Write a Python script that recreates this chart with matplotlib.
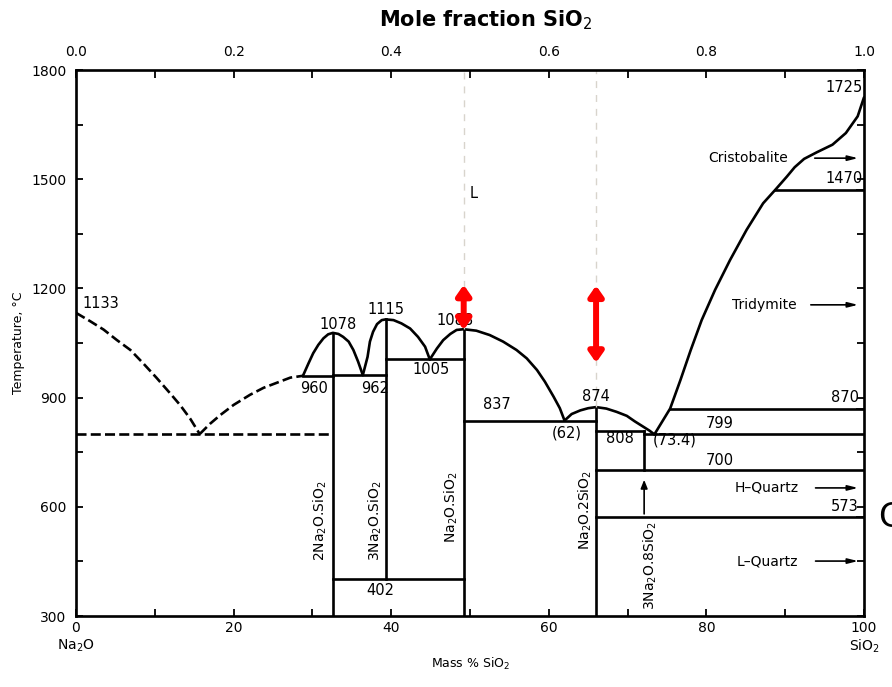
import matplotlib
matplotlib.use("Agg")
from matplotlib import pyplot as plt

plt.rcParams["font.family"] = ["DejaVu Sans"]
plt.rcParams["mathtext.fontset"] = "dejavusans"

# Na2O - SiO2 phase diagram (mass % SiO2 vs temperature)
# liquidus branches
liq_na2o_x = [0, 1.8, 3.5, 5.2, 6.9, 8.5, 10.2, 11.9, 13.2, 14.5, 15.7]
liq_na2o_t = [1133, 1110, 1087, 1058, 1031, 995, 955, 913, 880, 842, 800]
liq_c21_x = [15.7, 17.0, 18.3, 20.0, 22.1, 23.8, 25.5, 27.2, 28.8]
liq_c21_t = [800, 828, 852, 880, 908, 927, 941, 955, 960]

arc1_x = [28.8, 29.5, 30.1, 30.75, 31.4, 32.0, 32.6, 33.3, 33.9, 34.6, 35.2, 35.8, 36.4]
arc1_t = [960, 994, 1022, 1045, 1063, 1074, 1078, 1075, 1067, 1054, 1031, 999, 962]
arc2_x = [36.4, 37.0, 37.3, 37.7, 38.2, 38.8, 39.3, 40.3, 41.3, 42.4, 43.4, 44.3, 44.9]
arc2_t = [962, 1012, 1054, 1081, 1102, 1113, 1115, 1113, 1104, 1090, 1067, 1040, 1005]
arc3_x = [44.9, 45.8, 46.6, 47.5, 48.3, 49.2, 50.8, 52.5, 54.2, 55.9, 57.2, 58.5, 59.5,
          60.6, 61.4, 62.0]
arc3_t = [1005, 1035, 1058, 1075, 1086, 1088, 1084, 1072, 1054, 1031, 1008, 976, 944,
          903, 871, 837]
arc4_x = [62.0, 62.9, 64.0, 65.0, 66.0, 67.3, 68.6, 69.9, 70.9, 72.0, 72.8, 73.4]
arc4_t = [837, 855, 865, 871, 874, 870, 861, 850, 835, 820, 809, 799]
liq_sio2_x = [73.4, 75.4, 76.7, 78.0, 79.4, 81.1, 83.0, 85.1, 87.2, 88.7, 90.2, 91.2,
              92.4, 94.0, 96.0, 97.7, 99.2, 100]
liq_sio2_t = [799, 870, 948, 1030, 1113, 1196, 1278, 1361, 1434, 1470, 1507, 1533,
              1556, 1574, 1595, 1627, 1673, 1725]

# invariant lines: temperature, start, end
iso_t = [960, 962, 1005, 402, 837, 808, 799, 870, 700, 573, 1470]
iso_x0 = [28.8, 32.6, 39.3, 32.6, 49.2, 66.0, 72.1, 75.4, 66.0, 66.0, 88.7]
iso_x1 = [32.6, 39.3, 49.2, 49.2, 66.0, 72.1, 100, 100, 100, 100, 100]

# compounds: composition, bottom, top
comp_x = [32.6, 39.3, 49.2, 66.0, 72.1]
comp_t0 = [300, 402, 300, 300, 700]
comp_t1 = [1078, 1115, 1088, 874, 808]
comp_names = [r"2Na$_2$O.SiO$_2$", r"3Na$_2$O.SiO$_2$", r"Na$_2$O.SiO$_2$",
              r"Na$_2$O.2SiO$_2$", r"3Na$_2$O.8SiO$_2$"]

# red arrows: x, lower, upper
red_x = [49.2, 66.0]
red_lo = [1086, 996]
red_hi = [1210, 1208]

fig = plt.figure(figsize=(8.92, 6.87), dpi=100)
ax = fig.add_axes([0.0852, 0.1033, 0.8834, 0.7947])
ax.set_xlim(0, 100)
ax.set_ylim(300, 1800)

lw = 1.9
dash = dict(ls="--", dashes=(3.8, 1.6), color="k", lw=lw)
ax.plot(liq_na2o_x, liq_na2o_t, **dash)
ax.plot(liq_c21_x, liq_c21_t, **dash)
ax.plot([0, 32.6], [800, 800], **dash)
for xs, ts in [(arc1_x, arc1_t), (arc2_x, arc2_t), (arc3_x, arc3_t),
               (arc4_x, arc4_t), (liq_sio2_x, liq_sio2_t)]:
    ax.plot(xs, ts, color="k", lw=lw, solid_capstyle="round", solid_joinstyle="round")
for t, x0, x1 in zip(iso_t, iso_x0, iso_x1):
    ax.plot([x0, x1], [t, t], color="k", lw=lw)
for x, t0, t1 in zip(comp_x, comp_t0, comp_t1):
    ax.plot([x, x], [t0, t1], color="k", lw=lw)

# grey guide lines at 1:1 and 1:2
for x, t in zip([49.2, 66.0], [1088, 874]):
    ax.plot([x, x], [t, 1800], color="#d8d4cc", lw=1, ls=(0, (5, 5)))

# 3Na2O.8SiO2 arrow
ax.annotate("", xy=(72.1, 682), xytext=(72.1, 573),
            arrowprops=dict(arrowstyle="-|>,head_length=0.5,head_width=0.2", color="k", lw=1.2))

# phase region labels with arrows to the SiO2 axis
for name, t, xt, xa in [("Cristobalite", 1558, 85.3, 93.4), ("Tridymite", 1155, 87.4, 92.9),
                        ("H\u2013Quartz", 652, 87.7, 93.5), ("L\u2013Quartz", 451, 87.7, 93.5)]:
    ax.text(xt, t, name, ha="center", va="center", fontsize=10)
    ax.annotate("", xy=(99.6, t), xytext=(xa, t),
                arrowprops=dict(arrowstyle="-|>,head_length=0.6,head_width=0.15", color="k", lw=1.2))

# temperature labels
labels = [("1133", 3.2, 1158), ("1078", 33.2, 1102), ("1115", 39.3, 1141), ("1088", 48.1, 1113),
          ("960", 30.2, 926), ("962", 38.0, 926), ("1005", 45.0, 978), ("837", 53.4, 880),
          ("(62)", 62.3, 803), ("874", 66.0, 903), ("808", 69.0, 789), ("(73.4)", 76.0, 784),
          ("799", 81.7, 828), ("700", 81.7, 727), ("402", 38.6, 370), ("870", 97.6, 900),
          ("573", 97.6, 602), ("1470", 97.5, 1503), ("1725", 97.5, 1752)]
for s, x, t in labels:
    ax.text(x, t, s, ha="center", va="center", fontsize=10.5)
ax.text(50.5, 1462, "L", ha="center", va="center", fontsize=10.5)

# compound names, rotated
for name, x, t in zip(comp_names, [31.0, 38.0, 47.6, 64.6, 72.9],
                      [563, 563, 600, 590, 440]):
    ax.text(x, t, name, rotation=90, ha="center", va="center", fontsize=10)

for x, lo, hi in zip(red_x, red_lo, red_hi):
    ax.annotate("", xy=(x, hi), xytext=(x, lo), annotation_clip=False, zorder=5,
                arrowprops=dict(arrowstyle="<|-|>,head_length=0.6,head_width=0.42",
                                color="red", lw=4.3, shrinkA=0, shrinkB=0))

# axes: ticks inside
ax.set_xticks([0, 20, 40, 60, 80, 100])
ax.set_xticklabels(["0\nNa$_2$O", "20", "40", "60", "80", "100\nSiO$_2$"], fontsize=10)
ax.set_xticks(range(10, 100, 20), minor=True)
ax.set_yticks(range(300, 1801, 300))
ax.set_yticks(range(450, 1800, 300), minor=True)
ax.tick_params(axis="both", which="both", direction="in", length=5, width=1.3,
               top=False, right=True, labelsize=10)
ax.tick_params(axis="y", pad=7)
fig.text(0.528, 0.034, "Mass % SiO$_2$", ha="center", va="center", fontsize=9)
ax.set_ylabel("Temperature, \u00b0C", fontsize=9, labelpad=4)
for sp in ax.spines.values():
    sp.set_linewidth(1.9)

# extra ticks on the right for the labelled invariants
rax = ax.secondary_yaxis("right")
rax.set_yticks([573, 870, 1470])
rax.set_yticklabels([])
rax.tick_params(direction="in", length=6, width=1.2)
rax.spines["right"].set_visible(False)

ax2 = ax.twiny()
ax2.set_xlim(0, 1)
ax2.set_xticks([0, 0.2, 0.4, 0.6, 0.8, 1.0])
ax2.set_xticklabels(["0.0", "0.2", "0.4", "0.6", "0.8", "1.0"], fontsize=10)
ax2.set_xticks([0.1, 0.3, 0.5, 0.7, 0.9], minor=True)
ax2.tick_params(axis="x", which="both", direction="in", length=6, width=1.3, pad=8)
fig.text(0.544, 0.971, "Mole fraction SiO$_2$", ha="center", va="center",
         fontsize=15, fontweight="bold")

fig.text(878 / 892, 0.246, "C", ha="left", va="center", fontsize=24)

fig.savefig("out.png", dpi=100)
